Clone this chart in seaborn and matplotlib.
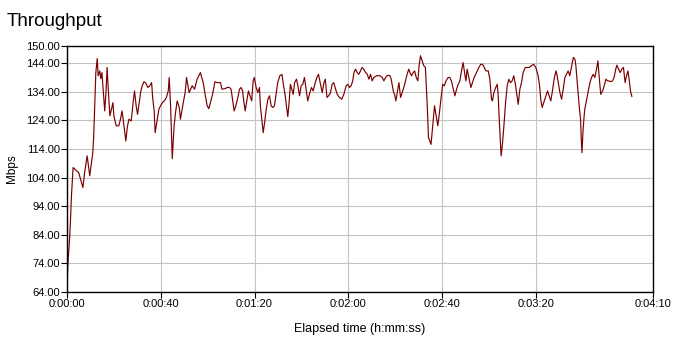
import matplotlib
matplotlib.use("Agg")
import matplotlib.pyplot as plt
import seaborn as sns
import pandas as pd

# Elapsed time (seconds) and throughput (Mbps)
elapsed_s = [
    0.0, 0.4, 1.1, 1.5, 1.9, 2.6, 5.0, 6.8, 7.5, 8.6, 9.7, 11.0, 11.4, 12.3, 12.9,
    13.3, 14.0, 14.4, 14.9, 15.4, 16.1, 16.7, 17.1, 17.6, 18.3, 18.8, 19.6, 20.0,
    21.0, 22.1, 22.8, 23.5, 24.3, 25.1, 25.7, 26.4, 27.4, 28.2, 28.8, 29.5, 30.1,
    30.8, 31.5, 32.1, 32.8, 33.5, 34.5, 35.3, 36.1, 36.6, 37.2, 37.6, 38.5, 39.2,
    39.9, 40.7, 41.7, 42.4, 43.2, 43.6, 44.2, 44.9, 45.7, 46.3, 47.0, 47.9, 48.4,
    49.6, 50.4, 51.0, 52.1, 53.4, 54.4, 55.5, 56.9, 58.1, 58.8, 59.8, 60.5, 61.2,
    62.1, 63.1, 64.1, 65.5,
    66.1, 67.5, 68.3, 69.3, 70.0, 70.6, 71.3, 72.0, 72.9, 73.6, 74.3, 74.9, 75.4,
    76.0, 76.7, 77.4, 78.1, 78.8, 79.4, 79.9, 80.3,
    80.7, 81.4, 82.1, 82.5, 83.1, 83.7, 84.3, 85.0, 85.7, 86.4, 87.1, 87.8, 88.5,
    89.2, 89.9, 90.8, 91.7, 92.4, 93.1, 93.6, 94.2, 94.8, 95.3, 95.9, 96.5, 97.1,
    97.9, 98.5, 99.2, 99.9, 100.6, 101.3, 102.0, 102.7, 103.6, 104.3, 105.0, 105.9,
    106.6, 107.3, 108.0, 108.9, 109.6, 110.2, 110.9, 111.6, 112.4, 113.1, 113.8,
    114.6, 115.3, 116.2, 117.2, 118.1, 119.1, 119.8, 120.5, 121.2, 121.9, 122.4,
    123.1, 123.8, 124.5, 125.2, 125.9, 126.6, 127.4, 128.1, 128.8, 129.5, 130.2,
    130.9, 132.1, 133.5, 134.5, 135.2, 135.9, 136.9, 137.8, 138.3, 139.2, 139.9,
    140.3, 140.9, 141.6, 142.3, 143.0, 143.7, 144.4, 145.1, 145.8, 146.3, 147.0,
    147.7, 148.3, 149.0, 149.7, 150.2, 150.8, 151.5, 152.2, 152.9, 153.7, 154.2,
    154.8, 155.3, 156.0, 156.8, 157.5, 158.2, 158.9, 159.6, 160.3, 161.0, 161.7,
    162.6, 163.3, 164.0, 164.8, 165.5, 166.2, 166.9, 167.6, 168.3, 169.0, 169.7,
    170.2, 170.7, 171.3, 171.9, 172.3, 173.0, 173.7, 174.7, 175.7, 176.5, 177.3,
    178.0, 178.7, 179.7, 180.4, 181.1, 181.5, 182.1, 182.9, 183.5, 183.9, 184.4,
    185.0, 185.2, 185.7, 186.4, 187.1, 187.8, 188.5, 189.2, 189.9, 190.6, 191.3,
    192.0, 192.5, 193.2, 193.9, 194.6, 195.5, 196.3, 197.2, 198.1, 199.1, 200.0,
    201.0, 201.7, 202.1, 202.7,
    203.6, 204.3, 205.0, 205.7, 206.4, 207.1, 207.8, 208.6, 209.0, 209.6, 210.3,
    211.0, 211.7, 212.4, 213.1, 213.8, 214.5, 215.3, 216.0, 216.7, 217.1, 217.5,
    218.0, 218.5, 219.1, 219.4, 219.7, 220.1, 220.5, 220.9, 221.7, 222.4, 223.1,
    223.8, 224.5, 225.2, 225.9, 226.5, 227.0, 227.7, 228.5, 229.2, 229.9, 230.6,
    231.3, 232.0, 232.7, 233.4, 234.1, 234.6, 235.3, 236.0, 236.7, 237.4, 238.1,
    238.7, 239.3, 239.8, 240.4, 241.0,
]
mbps = [
    64.5, 74.2, 82.4, 89.4, 97.6, 107.5, 105.7, 100.5, 105.7, 111.6, 104.6, 112.7, 118.6, 140.7, 145.6,
    139.6, 141.3, 138.6, 140.7, 134.9, 127.3, 134.9, 142.5, 134.9, 125.6, 127.3, 130.2, 125.6,
    122.1, 122.1, 124.4, 127.3, 122.1, 116.8, 121.5, 124.4, 123.8, 130.2, 134.3, 129.1, 126.1,
    130.2, 134.3, 136.1, 137.5, 137.2, 135.5, 136.1, 137.2, 131.4, 127.3, 119.7, 124.4, 127.9,
    129.1, 130.2, 131.0, 132.0, 134.3, 139.0, 129.1, 110.6, 122.1, 126.7, 130.8, 128.5, 124.4,
    130.2, 133.7, 139.0, 133.7, 136.1, 134.9, 138.4, 140.7, 137.2, 133.7, 129.1, 128.1, 130.2,
    133.1, 137.5, 137.2, 137.2,
    134.9, 135.1, 135.5, 135.5, 134.9, 131.4, 127.3, 129.1, 132.0, 134.9, 135.5, 134.3, 130.8,
    127.3, 130.8, 134.3, 132.6, 130.8, 137.8, 139.0, 137.2,
    135.5, 133.7, 135.5, 129.1, 124.4, 119.7, 123.2, 127.9, 131.4, 132.6, 129.1, 128.5, 129.1,
    133.1, 137.2, 139.6, 140.1, 136.1, 132.6, 129.1, 125.3, 130.8, 136.6, 134.9, 133.1, 137.2,
    138.4, 136.1, 132.6, 136.1, 136.6, 139.0, 134.9, 130.8, 133.7, 135.5, 134.3, 137.2,
    139.0, 140.1, 137.2, 133.7, 137.2, 138.4, 132.0, 132.6, 133.7, 136.6, 137.2,
    134.9, 133.1, 132.0, 131.4, 133.1, 136.1, 136.6, 135.5, 136.1, 137.8, 140.7,
    141.9, 140.7, 140.1, 141.3, 142.5, 141.9, 140.7, 140.1, 138.4, 140.1, 137.8,
    139.0, 139.6, 139.6, 139.0, 137.8, 139.0, 139.8, 139.6, 138.4, 134.3, 132.6,
    130.8, 133.7, 137.2, 132.0, 133.7, 135.5, 137.8, 140.1, 141.9, 140.7, 139.6,
    140.7, 141.3, 139.0, 137.8, 143.1, 146.6, 144.8, 143.1, 142.5, 129.1, 118.0,
    116.8, 115.6, 122.1, 129.1, 125.6, 122.1, 126.7, 132.0, 136.6, 136.1, 137.8,
    139.0, 139.0, 137.8, 134.9, 132.6, 134.9, 136.6, 137.8, 141.3, 144.2, 140.1,
    137.8, 141.9, 139.6, 137.2, 135.5, 137.2, 139.0, 140.7, 142.5, 143.6, 143.6,
    142.5, 141.3, 141.3, 138.4, 131.4, 130.8, 133.7, 135.5, 136.6, 133.7, 124.4,
    115.1, 111.6, 115.1, 122.1, 130.2, 136.1, 138.4, 137.2, 137.8, 139.6, 136.6,
    132.6, 129.6, 134.9, 137.2, 140.7, 142.5, 142.5, 142.5, 143.1, 143.6, 142.5,
    139.6, 135.5, 131.4, 128.5,
    130.8, 132.6, 134.3, 132.6, 130.8, 134.3, 138.4, 141.3, 140.1, 137.2, 133.7,
    131.4, 134.9, 139.0, 140.1, 141.3, 139.6, 143.1, 146.0, 145.4, 143.1, 139.0,
    133.7, 129.1, 124.4, 117.4, 112.7, 119.7, 124.4, 127.9, 131.4, 134.3, 137.2,
    139.0, 140.1, 139.0, 141.9, 144.8, 139.6, 133.1, 134.3, 136.1, 138.4, 137.8,
    137.8, 137.5, 137.8, 139.0, 141.9, 143.3, 141.9, 140.7, 141.9, 142.5, 137.2,
    139.6, 141.3, 138.4, 134.3, 132.3,
]

x_ticks = [0, 40, 80, 120, 160, 200, 250]
x_tick_labels = ["0:00:00", "0:00:40", "0:01:20", "0:02:00", "0:02:40", "0:03:20", "0:04:10"]
y_ticks = [64, 74, 84, 94, 104, 114, 124, 134, 144, 150]
y_tick_labels = ["64.00", "74.00", "84.00", "94.00", "104.00", "114.00", "124.00",
                 "134.00", "144.00", "150.00"]

df = pd.DataFrame({"t": elapsed_s, "mbps": mbps})

sns.set_style("white")
plt.rcParams["font.family"] = ["Liberation Sans", "DejaVu Sans"]
plt.rcParams["text.color"] = "black"
plt.rcParams["axes.labelcolor"] = "black"

fig = plt.figure(figsize=(6.79, 3.43), dpi=100)
ax = fig.add_axes([67 / 679, 1 - 292 / 343, (653 - 67) / 679, (292 - 46) / 343])

sns.lineplot(data=df, x="t", y="mbps", ax=ax, color="#7a0000", linewidth=0.85,
             estimator=None, sort=False)

ax.set_xlim(0, 250)
ax.set_ylim(64, 150)
ax.set_xticks(x_ticks)
ax.set_xticklabels(x_tick_labels, fontsize=8)
ax.set_yticks(y_ticks)
ax.set_yticklabels(y_tick_labels, fontsize=8)
ax.grid(True, color="#c4c4c4", linewidth=0.8)
ax.set_axisbelow(True)
for s in ax.spines.values():
    s.set_color("black")
    s.set_linewidth(1.0)
ax.tick_params(axis="both", direction="out", length=4, width=0.8, color="black",
               pad=1, labelcolor="black", bottom=True, left=True)

ax.set_xlabel("Elapsed time (h:mm:ss)", fontsize=9, labelpad=10, color="black")
ax.set_ylabel("Mbps", fontsize=8.5, labelpad=6, color="black")
fig.text(7 / 679, 1 - 22 / 343, "Throughput", fontsize=13.5, ha="left", va="center",
         color="black")

fig.savefig("out.png", dpi=100)
